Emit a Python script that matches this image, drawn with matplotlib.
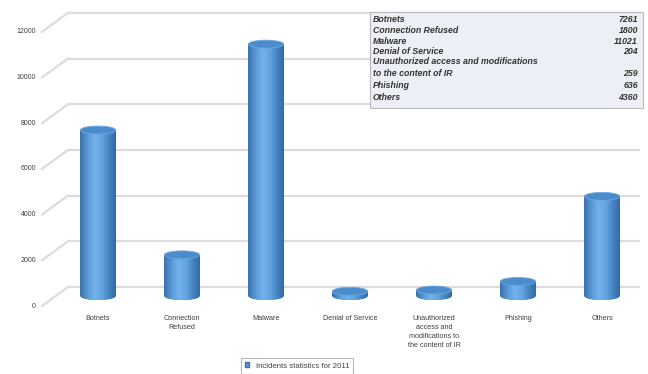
import numpy as np
import matplotlib
matplotlib.use("Agg")
import matplotlib.pyplot as plt
from matplotlib.patches import Rectangle, Ellipse, Patch
from matplotlib.colors import LinearSegmentedColormap

categories = ["Botnets", "Connection Refused", "Malware", "Denial of Service",
              "Unauthorized access and modifications to the content of IR",
              "Phishing", "Others"]
values = [7261, 1800, 11021, 204, 259, 636, 4360]
xlabels = ["Botnets", "Connection\nRefused", "Malware", "Denial of Service",
           "Unauthorized\naccess and\nmodifications to\nthe content of IR",
           "Phishing", "Others"]
table_labels = ["Botnets", "Connection Refused", "Malware", "Denial of Service",
                "Unauthorized access and modifications\nto the content of IR",
                "Phishing", "Others"]
yticks = [0, 2000, 4000, 6000, 8000, 10000, 12000]
legend_label = "Incidents statistics for 2011"

W, H = 648, 374
PX_PER_UNIT = 0.02285      # pixels per incident
X0, DX = 98, 84            # pixel of first category, spacing
Y0 = 296                   # pixel row of value 0 (from top)


def main():
    plt.rcParams['font.family'] = ['Liberation Sans', 'DejaVu Sans']
    fig = plt.figure(figsize=(W / 100, H / 100), dpi=100)
    ax = fig.add_axes([0, 0, 1, 1])
    ax.set_xlim(-X0 / DX, (W - X0) / DX)
    ax.set_ylim(-(H - Y0) / PX_PER_UNIT, Y0 / PX_PER_UNIT)
    ax.axis('off')

    px = 1 / PX_PER_UNIT  # units per pixel in y
    back_off = 9 * px
    front_off = -10 * px
    xb0 = (68 - X0) / DX
    xb1 = (640 - X0) / DX
    xf = (42 - X0) / DX
    gcol = '#dcdcdc'
    for v in yticks:
        ax.plot([xb0, xb1], [v + back_off, v + back_off], color=gcol, lw=1.6,
                solid_capstyle='butt', zorder=1)
        ax.plot([xf, xb0], [v + front_off, v + back_off], color=gcol, lw=1.6,
                zorder=1)
        ax.text((36 - X0) / DX, v + front_off, str(v), ha='right', va='center',
                fontsize=5, color='#404040')

    cmap = LinearSegmentedColormap.from_list(
        'cyl', ['#3a72ad', '#5798d4', '#72b2ea', '#65a5e0', '#4686c5', '#356a a0'.replace(' ', '')])
    grad = np.linspace(0, 1, 64).reshape(1, -1)
    w = 0.42
    eh = 8 * px
    for i, v in enumerate(values):
        bot = Ellipse((i, 0), w, eh, facecolor='#3f79b6', edgecolor='none', zorder=2)
        ax.add_patch(bot)
        body = Rectangle((i - w / 2, 0), w, v, facecolor='none', edgecolor='none')
        ax.add_patch(body)
        im = ax.imshow(grad, cmap=cmap, aspect='auto', extent=[i - w / 2, i + w / 2, 0, v],
                       zorder=3, interpolation='bilinear')
        im.set_clip_path(body)
        # bottom rounding under the body
        im2 = ax.imshow(grad, cmap=cmap, aspect='auto',
                        extent=[i - w / 2, i + w / 2, -eh / 2, 0], zorder=3,
                        interpolation='bilinear')
        im2.set_clip_path(bot)
        top = Ellipse((i, v), w, eh, facecolor='#4b8ccc', edgecolor='#6aa8e0',
                      lw=0.6, zorder=4)
        ax.add_patch(top)
        ax.text(i, -19 * px, xlabels[i], ha='center', va='top', fontsize=5.2,
                color='#404040', linespacing=1.4)

    # data table box
    fig.patches.append(Rectangle((370 / W, 1 - 108 / H), 273 / W, 96 / H,
                                 transform=fig.transFigure, facecolor='#eceff5',
                                 edgecolor='#b8b8b8', lw=0.8, zorder=5))
    rows_y = [20, 30.5, 41, 51.5, 67.5, 86, 97]
    for lab, v, ry in zip(table_labels, values, rows_y):
        fig.text(373 / W, 1 - ry / H, lab, ha='left', va='center', fontsize=6.3,
                 fontweight='bold', fontstyle='italic', color='#333333',
                 linespacing=1.45, zorder=6)
        vy = ry + 5.5 if '\n' in lab else ry
        fig.text(638 / W, 1 - vy / H, str(v), ha='right', va='center', fontsize=6.3,
                 fontweight='bold', fontstyle='italic', color='#333333', zorder=6)

    leg = fig.legend(handles=[Patch(facecolor='#5596d2', edgecolor='#3a72ad')],
                     labels=[legend_label], loc='center',
                     bbox_to_anchor=(297 / W, 1 - 366 / H), fontsize=5.6,
                     frameon=True, fancybox=False, handlelength=0.6,
                     handleheight=0.6, handletextpad=0.8, borderpad=0.55,
                     borderaxespad=0)
    leg.get_frame().set_edgecolor('#a6a6a6')
    leg.get_frame().set_linewidth(0.8)
    for txt in leg.get_texts():
        txt.set_color('#404040')

    fig.savefig('out.png', dpi=100)


if __name__ == "__main__":
    main()
